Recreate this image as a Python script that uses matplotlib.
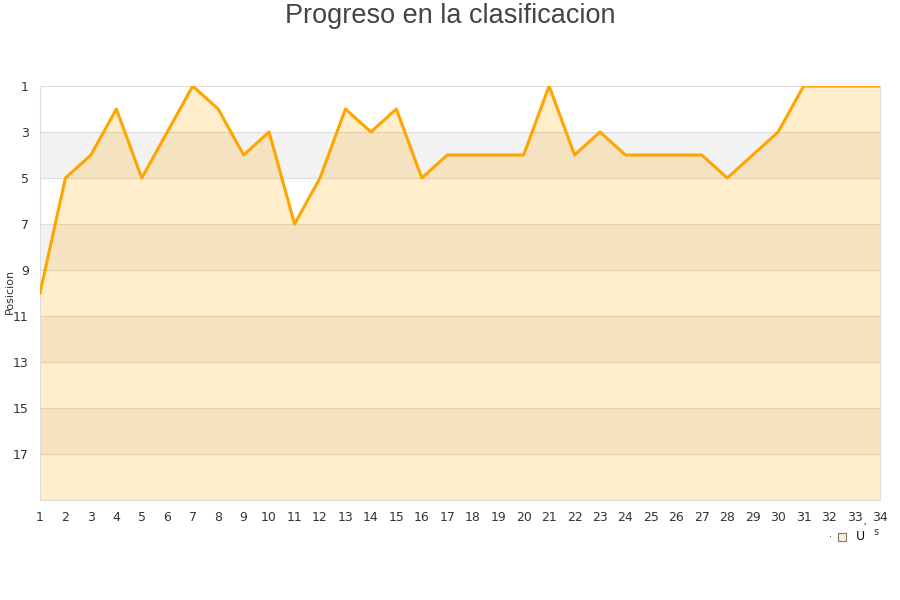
import numpy as np
import matplotlib.pyplot as plt
from matplotlib.patches import Rectangle

# Jornadas y posicion en la clasificacion
jornadas = list(range(1, 35))
posicion = [10, 5, 4, 2, 5, 3, 1, 2, 4, 3, 7, 5, 2, 3, 2, 5, 4, 4, 4, 4,
            1, 4, 3, 4, 4, 4, 4, 5, 4, 3, 1, 1, 1, 1]
y_ticks = [1, 3, 5, 7, 9, 11, 13, 15, 17]
y_min, y_max = 1, 19

fig = plt.figure(figsize=(9, 6), dpi=100)
ax = fig.add_axes([40 / 900, 100 / 600, 840 / 900, 414 / 600])

# alternating background bands
for i, lo in enumerate(range(1, 19, 2)):
    col = '#ffffff' if i % 2 == 0 else '#f2f2f2'
    ax.axhspan(lo, lo + 2, color=col, zorder=0, lw=0)
for t in y_ticks[1:]:
    ax.axhline(t, color='#dddddd', lw=0.8, zorder=1)

ax.fill_between(jornadas, posicion, y_max, color='#ffa500', alpha=0.2, lw=0, zorder=2)
ax.plot(jornadas, posicion, color='#ffa500', lw=2.2, zorder=3)
ax.plot([31, 34], [1.0, 1.0], color='#aaaaaa', lw=0.8, zorder=2.5)

ax.set_xlim(1, 34)
ax.set_ylim(y_max, y_min)
ax.set_xticks(jornadas)
ax.set_yticks(y_ticks)
ax.tick_params(length=0, labelsize=9, colors='#333333', pad=8)
ax.tick_params(axis='y', pad=8)
for s in ax.spines.values():
    s.set_color('#dddddd')

fig.text(10 / 900, 1 - 291 / 600, 'Posicion', rotation=90, ha='center', va='center',
         fontsize=8, color='#333333')
fig.suptitle('Progreso en la clasificacion', x=0.5, y=1 - 16 / 600, va='center',
             fontsize=19.5, color='#444444', family='Liberation Sans')

# legend (broken glyphs as in the original)
fig.text(831 / 900, 1 - 537 / 600, '·', fontsize=7, ha='center', va='center', color='#333333')
fig.patches.append(Rectangle((838 / 900, 1 - 541 / 600), 8 / 900, 8 / 600,
                             transform=fig.transFigure, facecolor='#ffedcc',
                             edgecolor='#777777', lw=0.8))
fig.text(860 / 900, 1 - 537 / 600, 'U', fontsize=9, ha='center', va='center', color='#111111')
fig.text(864 / 900, 1 - 527 / 600, "'", fontsize=6, ha='center', va='center', color='#111111')
fig.text(876 / 900, 1 - 532 / 600, 's', fontsize=7, ha='center', va='center', color='#333333')

fig.savefig('out.png', dpi=100)
